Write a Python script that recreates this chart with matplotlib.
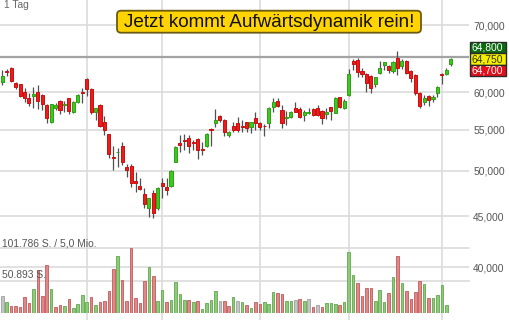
import numpy as np
import matplotlib
matplotlib.use("Agg")
import matplotlib.pyplot as plt
from matplotlib.patches import Rectangle, FancyBboxPatch
import matplotlib.ticker as mticker
import matplotlib.transforms as mtrans

# ---------------- data ----------------
opens = [61450, 62950, 63380, 61220, 61080, 59960, 59220, 59490, 59960, 59590,
         58220, 56020, 57780, 58760, 58250, 59130, 57330, 58670, 59950, 61830,
         60420, 57330, 58220, 55940, 54410, 51660, 52200, 52980, 50440, 50550,
         48830, 48300, 47350, 45900, 47520, 45840, 48570, 48190, 48270, 51060,
         53280, 53650, 53900, 53450, 53770, 52580, 52950, 55080, 55900, 56760,
         56240, 54320, 55500, 55810, 55420, 55940, 55370, 56460, 55900, 55500,
         55900, 57910, 58760, 57550, 56460, 56670, 57860, 57640, 56890, 57200,
         57640, 57860, 57460, 57020, 57910, 57200, 59270, 57860, 59590, 64510,
         64610, 63030, 62500, 62250, 61080, 62650, 63870, 63770, 62980, 64860,
         63760, 64460, 62980, 62400, 59820, 58670, 59490, 59000, 59900, 62550,
         62500, 63970]
highs = [63100, 63250, 63530, 61440, 61080, 60520, 59820, 60740, 60980, 59680,
         58310, 58400, 58540, 58900, 58760, 59220, 58760, 59680, 60520, 62020,
         60520, 57870, 58310, 56760, 54410, 52980, 52740, 53480, 50820, 50790,
         49820, 49200, 48010, 46990, 47820, 48190, 49130, 49130, 50090, 52980,
         54320, 54450, 54320, 53690, 53900, 53400, 54530, 55250, 57680, 56890,
         56330, 54820, 56020, 56590, 56240, 56020, 56020, 57250, 56020, 55680,
         57990, 59130, 59220, 58220, 57420, 57460, 58680, 57910, 57550, 57780,
         57780, 58220, 57550, 57780, 57990, 59270, 59350, 59040, 63280, 64760,
         64960, 63480, 62650, 62400, 62150, 64460, 64360, 63870, 64460, 65980,
         64760, 64610, 63130, 62500, 59960, 59590, 59590, 59590, 60880, 62650,
         63480, 64960]
lows = [61000, 62300, 61370, 60380, 59350, 58590, 58130, 57780, 57680, 57550,
        55810, 55890, 57550, 57020, 57330, 56980, 57110, 58540, 58450, 59490,
        56980, 56240, 55370, 54320, 51460, 50090, 50470, 50670, 49320, 48190,
        47570, 47820, 45900, 44950, 44790, 45660, 46980, 47270, 48120, 50990,
        52260, 52460, 52140, 52460, 51340, 51860, 52860, 52980, 55370, 56020,
        54190, 54110, 54740, 54740, 54740, 54740, 54530, 54950, 54950, 54230,
        55240, 57250, 57910, 55240, 55590, 56460, 57250, 56460, 56110, 56980,
        56760, 56760, 55720, 56370, 56240, 57110, 57780, 57680, 59490, 63130,
        62150, 62150, 59960, 59900, 60740, 62500, 63130, 62650, 62650, 62400,
        63280, 62500, 61370, 59590, 57860, 58220, 58130, 58670, 59270, 61080,
        62400, 63770]
closes = [62300, 62850, 61550, 60740, 59490, 59220, 58450, 59680, 58770, 58310,
          56460, 58310, 58200, 57550, 58350, 57420, 58590, 59590, 59900, 60380,
          57330, 57780, 55500, 54950, 52020, 51460, 52260, 50990, 50090, 48640,
          48600, 47900, 46260, 46910, 45310, 48080, 48270, 47820, 50010, 52860,
          53070, 53550, 52980, 53350, 52460, 52520, 54450, 55000, 56240, 56240,
          54740, 54660, 54950, 54950, 55370, 55240, 55950, 55900, 55370, 55460,
          57860, 58590, 58130, 55810, 56670, 57330, 57330, 56670, 57330, 57330,
          56890, 56890, 56500, 57250, 57460, 59130, 57990, 58810, 62550, 63970,
          62880, 62550, 61220, 60520, 62060, 63430, 64270, 63130, 64270, 63380,
          64460, 62650, 61930, 59820, 58130, 59130, 58900, 59350, 60740, 62450,
          63130, 64750]
volumes = [26600, 16800, 11500, 11500, 9900, 25500, 15200, 37100, 67300, 26600,
           75200, 37600, 9900, 12000, 11000, 21400, 7300, 14100, 27700, 17700,
           25500, 12500, 16800, 19300, 34900, 68900, 89700, 51700, 19300, 101786,
           24000, 15200, 50600, 72500, 58400, 19300, 35500, 17700, 20400, 49000,
           29800, 20400, 20400, 17200, 18300, 5800, 15200, 20400, 34500, 18800,
           18800, 11000, 24500, 19300, 17200, 12500, 8300, 17700, 14100, 16800,
           14600, 32900, 31800, 29800, 19300, 18300, 20400, 22400, 18800, 22400,
           8900, 12500, 9900, 15200, 15700, 13600, 12000, 17200, 96000, 59500,
           47500, 27100, 38600, 38600, 19300, 36000, 17200, 31800, 55900, 89300,
           47500, 34900, 21900, 32400, 50100, 44900, 24000, 24000, 28200, 43800,
           12500, 0]
month_starts = [19, 36, 58, 78, 99]
price_ticks = [40000, 45000, 50000, 55000, 60000, 70000]
ref_level = 65000
quotes = [64800, 64750, 64700]
vol_max = 101786
vol_text = "5,0 Mio."
title = "Jetzt kommt Aufwärtsdynamik rein!"
period = "1 Tag"

# ---------------- figure ----------------
plt.rcParams['font.family'] = ['Liberation Sans', 'DejaVu Sans']
W, H = 510, 320
fig = plt.figure(figsize=(W / 100, H / 100), dpi=100)
fig.patch.set_facecolor('white')
AXW = 469
ax = fig.add_axes([0, 0, AXW / W, 1])
ax.set_yscale('log')
ax.set_ylim(35396, 74240)
ax.set_xlim(-0.518, 105.11)
for s in ax.spines.values():
    s.set_visible(False)

grid_c = '#dcdcdc'
ax.set_yticks(price_ticks)
ax.yaxis.set_major_formatter(mticker.FuncFormatter(lambda v, p: f"{int(v):,}"))
ax.yaxis.set_minor_locator(mticker.NullLocator())
ax.yaxis.tick_right()
ax.tick_params(axis='y', length=0, pad=3, labelsize=7.4, labelcolor='#555555')
ax.set_xticks(month_starts)
ax.tick_params(axis='x', length=0, labelbottom=False)
ax.grid(True, color=grid_c, lw=1.2, zorder=0)
ax.set_axisbelow(True)
ax.axhline(ref_level, color='#a3a3a3', lw=1.6, zorder=1)

n = len(closes)
x = np.arange(n)
o = np.array(opens, float)
c = np.array(closes, float)
up = c >= o
body_col = np.where(up, '#3cc81e', '#ec1c1c')
edge_col = np.where(up, '#2fa014', '#c81010')
ax.vlines(x, lows, highs, color='#505050', lw=0.9, zorder=3)
ax.bar(x, np.abs(c - o), bottom=np.minimum(o, c), width=0.7,
       color=body_col, edgecolor=edge_col, lw=0.7, zorder=4)

# ---------------- volume ----------------
axv = fig.add_axes([0, 7 / H, AXW / W, 65 / H])
axv.set_xlim(ax.get_xlim())
axv.set_ylim(0, vol_max)
axv.axis('off')
axv.patch.set_alpha(0)
axv.axhline(vol_max, color=grid_c, lw=1.2, zorder=0, clip_on=False)
axv.axhline(vol_max / 2, color=grid_c, lw=1.2, zorder=0, clip_on=False)
prev = np.concatenate([[c[0]], c[:-1]])
vcol, vedge = [], []
for i in range(n):
    if i == 0 or c[i] == prev[i]:
        vcol.append('#c4c4c4'); vedge.append('#a0a0a0')
    elif c[i] > prev[i]:
        vcol.append('#8ccb78'); vedge.append('#62a84e')
    else:
        vcol.append('#e08888'); vedge.append('#c25a5a')
axv.bar(x, volumes, width=0.58, color=vcol, edgecolor=vedge, lw=0.6, zorder=2)

def fmt_de(v):
    return f"{int(round(v)):,}".replace(',', '.')

btr = mtrans.blended_transform_factory(axv.transAxes, axv.transData)
axv.text(2 / AXW, vol_max, f"{fmt_de(vol_max)} S. / {vol_text}", transform=btr,
         ha='left', va='bottom', fontsize=7.4, color='#555555', zorder=5)
axv.text(2 / AXW, vol_max / 2, f"{fmt_de(vol_max / 2)} S.", transform=btr,
         ha='left', va='bottom', fontsize=7.4, color='#555555', zorder=5)

# ---------------- title box ----------------
fig.patches.append(FancyBboxPatch((117, H - 32.7), 304, 22,
                                  boxstyle='round,pad=0,rounding_size=4',
                                  transform=None, fc='#ffd400', ec='#6a5a12', lw=1.3))
fig.text(269 / W, (H - 27.3) / H, title, ha='center', va='baseline',
         fontsize=13.6, color='#111111')
fig.text(4 / W, (H - 8.5) / H, period, ha='left', va='baseline',
         fontsize=7.4, color='#666666')

# ---------------- quote boxes ----------------
fig.canvas.draw()
y0 = ax.transData.transform((0, quotes[1]))[1]
bh = 11.6
specs = [(quotes[0], y0 + bh / 2, '#0d6b12', 'white'),
         (quotes[1], y0 - bh / 2, '#f4f000', '#333300'),
         (quotes[2], y0 - 1.5 * bh, '#e3101c', 'white')]
for val, yb, fc, tc in specs:
    fig.patches.append(Rectangle((469.5, yb), 36.5, bh, transform=None,
                                 fc=fc, ec='#2a2a2a', lw=1.0))
    fig.text((469.5 + 18.25) / W, (yb + bh / 2) / H, f"{val:,}", ha='center',
             va='center', fontsize=7.4, color=tc)

fig.savefig('out.png', dpi=100)
